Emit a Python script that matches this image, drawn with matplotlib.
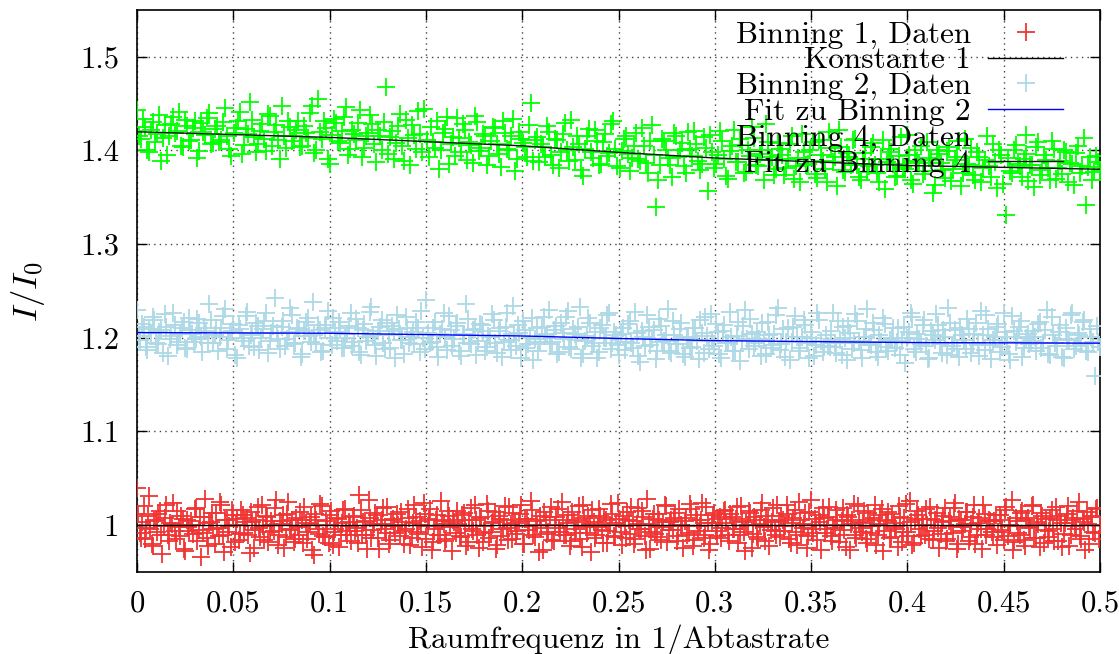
import numpy as np
import matplotlib
matplotlib.use("Agg")
import matplotlib.pyplot as plt

plt.rcParams['font.family'] = ['cmr10', 'DejaVu Serif']
plt.rcParams['mathtext.fontset'] = 'cm'
plt.rcParams['axes.formatter.use_mathtext'] = True

# ---------------- data (units of 1e-3) ----------------
# each series is stored as two interleaved halves (even and odd frequency bins)
binning1_even = [
    1040, 992, 1003, 985, 1010, 996, 978, 1005, 1012, 990, 999, 1021, 983, 1001, 994, 1015, 988, 1007, 972, 998,
    1004, 991, 1018, 995, 966, 1009, 986, 1002, 1013, 980, 997, 1025, 989, 1006, 993, 977, 1011, 1000, 984, 1016,
    992, 1008, 970, 1003, 995, 1019, 987, 999, 1010, 982, 1004, 994, 1027, 990, 1001, 976, 1012, 996, 1006, 985,
    998, 1014, 981, 1002, 993, 1009, 968, 1005, 991, 1020, 987, 1000, 1011, 979, 996, 1007, 989, 1016, 994, 1003,
    983, 1010, 997, 1032, 990, 1004, 975, 1008, 995, 1013, 986, 1001, 1018, 992, 980, 1006, 999, 1012, 988, 1003,
    994, 1017, 979, 1002, 1009, 991, 1000, 1024, 985, 1007, 973, 996, 1011, 989, 1004, 983, 1015, 998, 1006, 992,
    1001, 987, 1013, 978, 1005, 996, 1022, 990, 1008, 982, 999, 1015, 993, 1003, 975, 1010, 988, 1006, 997, 1019,
    985, 1002, 994, 1012, 980, 1007, 999, 1026, 989, 1004, 971, 997, 1014, 991, 1009, 984, 1000, 1017, 993, 1005,
    990, 1011, 983, 1003, 996, 1020, 977, 1008, 992, 1001, 1016, 986, 998, 1010, 981, 1005, 994, 1023, 988, 1002,
    1007, 979, 999, 1014, 991, 1004, 985, 1018, 996, 1009, 974, 1001, 993, 1012, 987, 1006, 998, 1021, 982, 1003,
    995, 1013, 988, 1000, 976, 1008, 992, 1017, 984, 1005, 999, 1024, 990, 1002, 980, 1011, 994, 1007, 986, 1015,
    1002, 983, 1009, 996, 1019, 989, 1004, 972, 1000, 1013, 991, 1006, 985, 1016, 998, 1010, 978, 1003, 994, 1021,
    987, 1005, 999, 1012, 981, 1008, 993, 1025, 990, 1001, 976, 1014, 996, 1007, 984, 1003, 1018, 992, 1009, 988,
    1000, 1016, 982, 1004, 995, 1011, 974, 1006, 989, 1020, 997, 1002, 985, 1013, 992, 1008, 979, 1001, 1017, 994,
    1006, 986, 1012, 998, 977, 1009, 993, 1023, 988, 1003, 981, 1015, 996, 1007, 990, 1000, 1019, 984, 1005, 997,
    991, 1010, 983, 1004, 999, 1018, 975, 1007, 994, 1001, 1014, 987, 1009, 980, 1002, 996, 1022, 989, 1006, 993,
    1004, 979, 1011, 995, 1016, 988, 1000, 973, 1008, 992, 1013, 984, 1005, 998, 1020, 986, 1003, 977, 1010, 995,
    987, 1008, 996, 1019, 983, 1002, 991, 1012, 978, 1005, 999, 1015, 988, 1007, 974, 1001, 1010, 993, 1017, 985,
]
binning1_odd = [
    1012, 986, 1020, 997, 1031, 980, 1004, 993, 1015, 969, 1008, 990, 1002, 1024, 985, 998, 1010, 975, 1006, 994,
    1000, 1017, 983, 1009, 992, 1028, 978, 1003, 996, 1013, 988, 1021, 971, 1005, 999, 1016, 982, 1007, 991, 1011,
    1003, 989, 1014, 976, 1006, 997, 1022, 984, 1009, 993, 1000, 1018, 979, 1004, 1011, 987, 1025, 995, 982, 1008,
    990, 1006, 1019, 985, 1001, 973, 1012, 996, 1023, 988, 1004, 981, 1015, 993, 1008, 977, 1002, 1017, 990, 999,
    1009, 994, 981, 1016, 1003, 990, 1027, 986, 1001, 1011, 975, 1005, 996, 1019, 984, 1007, 992, 1000, 1014, 980,
    996, 1008, 986, 1021, 993, 1004, 977, 1012, 999, 1017, 982, 1006, 990, 1026, 1001, 985, 1010, 972, 1003, 1015,
    988, 1011, 999, 982, 1018, 994, 1005, 976, 1009, 992, 1023, 986, 1002, 1014, 979, 1007, 996, 1020, 984, 1001,
    1013, 991, 1004, 1022, 980, 1007, 995, 1016, 987, 1000, 1010, 974, 1005, 993, 1019, 983, 1009, 997, 1025, 989,
    1002, 978, 1014, 992, 1006, 985, 1021, 998, 1010, 971, 1003, 989, 1017, 995, 1008, 981, 1000, 1012, 987, 1024,
    993, 1010, 986, 1005, 1019, 980, 1001, 996, 1015, 988, 1028, 975, 1007, 991, 1012, 984, 1003, 1020, 995, 1006,
    1008, 983, 1017, 999, 1004, 990, 1023, 978, 1011, 994, 1006, 986, 1019, 973, 1002, 1013, 988, 1009, 997, 1016,
    990, 1012, 996, 1007, 981, 1020, 993, 1003, 1015, 976, 1009, 987, 1001, 1024, 983, 1005, 995, 1018, 989, 1004,
    1010, 994, 1022, 985, 1002, 1016, 979, 1006, 997, 1013, 988, 1027, 992, 1000, 1011, 974, 1008, 996, 1019, 983,
    997, 1005, 989, 1018, 977, 1009, 1001, 1023, 986, 1003, 993, 1015, 981, 1006, 999, 1021, 990, 1011, 972, 1004,
    1014, 987, 1002, 996, 1020, 982, 1008, 993, 1026, 979, 1005, 1011, 988, 1000, 1017, 985, 1007, 994, 1013, 976,
    1003, 1018, 985, 1009, 992, 1024, 980, 1006, 998, 1014, 983, 1001, 1021, 990, 1008, 975, 1012, 996, 1004, 987,
    1011, 993, 1006, 984, 1019, 999, 1027, 982, 1004, 990, 1015, 978, 1008, 997, 1022, 986, 1001, 1013, 981, 1007,
    994, 1016, 983, 1005, 1010, 977, 1002, 1020, 989, 1008, 996, 1025, 985, 1003, 1014, 980, 1009, 992, 1018, 1000,
]

binning2_even = [
    1230, 1198, 1212, 1187, 1205, 1219, 1193, 1208, 1225, 1181, 1202, 1214, 1196, 1210, 1189, 1221, 1204, 1199, 1216, 1185,
    1207, 1236, 1194, 1211, 1201, 1223, 1188, 1206, 1215, 1179, 1209, 1197, 1228, 1203, 1190, 1213, 1200, 1218, 1184, 1205,
    1243, 1199, 1212, 1191, 1206, 1224, 1195, 1209, 1183, 1217, 1202, 1238, 1193, 1208, 1186, 1214, 1200, 1221, 1197, 1211,
    1189, 1204, 1226, 1196, 1210, 1182, 1215, 1201, 1233, 1192, 1207, 1219, 1188, 1203, 1213, 1178, 1209, 1198, 1222, 1194,
    1206, 1217, 1185, 1200, 1240, 1195, 1211, 1190, 1204, 1227, 1187, 1208, 1199, 1216, 1181, 1203, 1220, 1193, 1209, 1197,
    1214, 1186, 1202, 1225, 1195, 1207, 1180, 1212, 1198, 1234, 1191, 1205, 1218, 1189, 1201, 1176, 1210, 1196, 1222, 1204,
    1193, 1208, 1183, 1216, 1199, 1229, 1188, 1204, 1212, 1178, 1197, 1221, 1191, 1206, 1185, 1214, 1200, 1226, 1194, 1203,
    1182, 1210, 1196, 1218, 1189, 1205, 1174, 1201, 1224, 1192, 1208, 1186, 1213, 1197, 1231, 1184, 1203, 1193, 1216, 1180,
    1200, 1190, 1211, 1177, 1205, 1222, 1188, 1197, 1215, 1183, 1207, 1194, 1228, 1186, 1202, 1175, 1213, 1199, 1220, 1191,
    1206, 1181, 1198, 1217, 1189, 1204, 1232, 1193, 1180, 1210, 1196, 1223, 1186, 1201, 1214, 1178, 1200, 1192, 1219, 1185,
    1203, 1190, 1227, 1184, 1198, 1212, 1176, 1205, 1194, 1218, 1187, 1201, 1231, 1192, 1208, 1180, 1196, 1215, 1186, 1200,
    1189, 1210, 1197, 1173, 1206, 1222, 1185, 1199, 1214, 1191, 1179, 1203, 1225, 1193, 1208, 1182, 1216, 1195, 1188, 1211,
    1198, 1220, 1184, 1204, 1192, 1229, 1187, 1209, 1177, 1201, 1215, 1190, 1206, 1183, 1223, 1196, 1212, 1180, 1200, 1193,
    1207, 1186, 1217, 1195, 1230, 1182, 1203, 1191, 1214, 1178, 1199, 1224, 1188, 1205, 1193, 1219, 1185, 1201, 1159, 1196,
]
binning2_odd = [
    1202, 1215, 1190, 1209, 1222, 1195, 1206, 1184, 1212, 1199, 1227, 1192, 1204, 1217, 1188, 1208, 1196, 1220, 1201, 1211,
    1194, 1219, 1203, 1186, 1210, 1231, 1198, 1207, 1182, 1214, 1200, 1223, 1191, 1205, 1216, 1187, 1209, 1226, 1197, 1213,
    1205, 1188, 1218, 1199, 1232, 1193, 1210, 1180, 1207, 1221, 1196, 1203, 1214, 1185, 1211, 1229, 1192, 1206, 1217, 1189,
    1200, 1213, 1191, 1220, 1185, 1208, 1197, 1228, 1203, 1181, 1212, 1194, 1216, 1189, 1207, 1224, 1198, 1183, 1210, 1201,
    1193, 1211, 1229, 1188, 1205, 1196, 1217, 1180, 1209, 1201, 1223, 1191, 1213, 1186, 1204, 1236, 1195, 1208, 1182, 1215,
    1207, 1190, 1201, 1219, 1184, 1211, 1196, 1226, 1187, 1204, 1214, 1179, 1208, 1193, 1221, 1199, 1186, 1212, 1202, 1230,
    1196, 1213, 1185, 1205, 1222, 1190, 1209, 1198, 1233, 1183, 1202, 1216, 1194, 1178, 1210, 1200, 1224, 1188, 1206, 1192,
    1204, 1187, 1215, 1195, 1228, 1181, 1207, 1191, 1212, 1199, 1177, 1220, 1196, 1203, 1186, 1218, 1193, 1209, 1183, 1201,
    1189, 1210, 1197, 1219, 1184, 1202, 1225, 1191, 1206, 1179, 1214, 1195, 1201, 1186, 1217, 1198, 1230, 1188, 1204, 1194,
    1199, 1216, 1183, 1203, 1192, 1224, 1187, 1209, 1196, 1176, 1212, 1201, 1189, 1219, 1194, 1206, 1181, 1227, 1197, 1190,
    1191, 1207, 1195, 1218, 1182, 1200, 1213, 1188, 1225, 1197, 1179, 1209, 1193, 1216, 1185, 1203, 1221, 1190, 1198, 1211,
    1196, 1182, 1212, 1200, 1227, 1188, 1204, 1193, 1219, 1177, 1207, 1198, 1214, 1184, 1201, 1232, 1191, 1208, 1180, 1203,
    1188, 1209, 1195, 1216, 1181, 1203, 1224, 1192, 1198, 1212, 1185, 1227, 1196, 1176, 1207, 1201, 1218, 1189, 1204, 1197,
    1201, 1215, 1189, 1208, 1183, 1222, 1195, 1206, 1180, 1211, 1198, 1227, 1191, 1203, 1217, 1186, 1209, 1196, 1213, 1190,
]

binning4_even = [
    1443, 1412, 1425, 1398, 1430, 1418, 1389, 1427, 1415, 1436, 1421, 1405, 1433, 1410, 1424, 1392, 1429, 1417, 1440, 1408,
    1426, 1411, 1445, 1402, 1419, 1432, 1396, 1423, 1452, 1414, 1407, 1428, 1399, 1437, 1420, 1411, 1448, 1403, 1425, 1416,
    1431, 1405, 1419, 1440, 1397, 1455, 1412, 1424, 1386, 1434, 1410, 1421, 1446, 1402, 1418, 1429, 1393, 1415, 1438, 1407,
    1422, 1400, 1468, 1414, 1391, 1426, 1405, 1433, 1384, 1417, 1442, 1398, 1411, 1425, 1403, 1380, 1419, 1436, 1407, 1394,
    1413, 1428, 1390, 1406, 1437, 1399, 1418, 1385, 1410, 1424, 1396, 1431, 1402, 1415, 1378, 1420, 1408, 1393, 1451, 1411,
    1388, 1404, 1426, 1395, 1412, 1381, 1418, 1400, 1433, 1390, 1407, 1373, 1415, 1398, 1422, 1385, 1409, 1394, 1428, 1402,
    1381, 1412, 1396, 1392, 1419, 1389, 1405, 1376, 1427, 1340, 1385, 1410, 1392, 1372, 1415, 1401, 1383, 1420, 1394, 1407,
    1379, 1414, 1357, 1398, 1386, 1421, 1391, 1370, 1405, 1388, 1412, 1376, 1400, 1425, 1384, 1396, 1368, 1409, 1393, 1380,
    1402, 1374, 1391, 1415, 1383, 1366, 1398, 1386, 1409, 1371, 1395, 1380, 1420, 1388, 1362, 1404, 1377, 1393, 1411, 1384,
    1369, 1397, 1383, 1408, 1376, 1391, 1359, 1402, 1386, 1373, 1414, 1380, 1395, 1364, 1389, 1405, 1378, 1392, 1355, 1400,
    1387, 1371, 1404, 1380, 1393, 1362, 1412, 1385, 1374, 1398, 1366, 1390, 1383, 1407, 1360, 1395, 1331, 1378, 1401, 1386,
    1372, 1396, 1384, 1361, 1409, 1379, 1390, 1368, 1402, 1381, 1375, 1398, 1387, 1363, 1405, 1383, 1342, 1393, 1377, 1388,
]
binning4_odd = [
    1416, 1434, 1401, 1422, 1409, 1438, 1413, 1395, 1428, 1419, 1441, 1404, 1426, 1411, 1432, 1399, 1420, 1435, 1407, 1423,
    1409, 1430, 1415, 1394, 1424, 1441, 1406, 1418, 1433, 1398, 1421, 1412, 1439, 1405, 1427, 1391, 1416, 1431, 1410, 1422,
    1404, 1426, 1413, 1447, 1400, 1420, 1432, 1391, 1417, 1429, 1408, 1436, 1395, 1422, 1411, 1443, 1403, 1419, 1428, 1388,
    1416, 1430, 1396, 1421, 1408, 1439, 1389, 1413, 1427, 1402, 1418, 1444, 1393, 1409, 1431, 1400, 1423, 1386, 1414, 1435,
    1398, 1422, 1409, 1387, 1430, 1403, 1416, 1394, 1425, 1407, 1382, 1419, 1400, 1434, 1391, 1412, 1404, 1427, 1389, 1414,
    1407, 1393, 1420, 1384, 1411, 1398, 1429, 1389, 1404, 1416, 1379, 1402, 1423, 1392, 1410, 1386, 1418, 1397, 1431, 1383,
    1399, 1416, 1378, 1405, 1391, 1424, 1387, 1410, 1395, 1369, 1412, 1400, 1384, 1419, 1393, 1408, 1376, 1402, 1421, 1389,
    1386, 1403, 1417, 1381, 1395, 1410, 1373, 1399, 1422, 1388, 1406, 1377, 1394, 1413, 1383, 1401, 1428, 1390, 1374, 1408,
    1395, 1381, 1407, 1370, 1392, 1418, 1385, 1400, 1375, 1411, 1389, 1366, 1403, 1393, 1422, 1379, 1397, 1384, 1412, 1372,
    1391, 1377, 1404, 1384, 1366, 1411, 1388, 1398, 1372, 1394, 1382, 1417, 1369, 1401, 1387, 1375, 1409, 1390, 1363, 1396,
    1379, 1399, 1367, 1390, 1410, 1376, 1386, 1403, 1369, 1393, 1381, 1415, 1372, 1388, 1400, 1364, 1392, 1376, 1406, 1383,
    1391, 1367, 1385, 1404, 1374, 1395, 1381, 1410, 1370, 1389, 1400, 1366, 1386, 1397, 1376, 1413, 1382, 1369, 1394, 1379,
]

const1_x = [0.0, 0.5]
const1_y = [1.0, 1.0]
fit2_x = [0.0, 0.1, 0.2, 0.25, 0.3, 0.4, 0.5]
fit2_y = [1.2056, 1.2049, 1.2020, 1.1993, 1.1970, 1.1950, 1.1943]
fit4_x = [0.0, 0.1, 0.2, 0.25, 0.3, 0.4, 0.5]
fit4_y = [1.420, 1.414, 1.405, 1.398, 1.392, 1.384, 1.380]

x_ticks = [0, 0.05, 0.1, 0.15, 0.2, 0.25, 0.3, 0.35, 0.4, 0.45, 0.5]
x_ticklabels = ['0', '0.05', '0.1', '0.15', '0.2', '0.25', '0.3', '0.35', '0.4', '0.45', '0.5']
y_ticks = [1.0, 1.1, 1.2, 1.3, 1.4, 1.5]
y_ticklabels = ['1', '1.1', '1.2', '1.3', '1.4', '1.5']


def interleave(even, odd):
    vals = np.empty(len(even) + len(odd))
    vals[0::2] = even
    vals[1::2] = odd
    return vals / 1000.0


# ---------------- figure ----------------
W, H = 1119, 654
fig = plt.figure(figsize=(W / 100, H / 100), dpi=100)
ax = fig.add_axes([137 / W, (H - 572) / H, (1100 - 137) / W, (572 - 10) / H])

y1 = interleave(binning1_even, binning1_odd)
y2 = interleave(binning2_even, binning2_odd)
y4 = interleave(binning4_even, binning4_odd)
x1 = np.linspace(0, 0.5, len(y1))
x2 = np.linspace(0, 0.5, len(y2))
x4 = np.linspace(0, 0.5, len(y4))

ms = 13
mew = 1.3
ax.plot(x1, y1, ls='none', marker='+', ms=ms, mew=mew, color='#f03434', label='Binning 1, Daten', zorder=3)
ax.plot(const1_x, const1_y, color='black', lw=1.0, label='Konstante 1', zorder=4)
ax.plot(x2, y2, ls='none', marker='+', ms=ms, mew=mew, color='#add8e6', label='Binning 2, Daten', zorder=3)
ax.plot(fit2_x, fit2_y, color='#0000ff', lw=1.0, label='Fit zu Binning 2', zorder=4)
ax.plot(x4, y4, ls='none', marker='+', ms=ms, mew=mew, color='#00ff00', label='Binning 4, Daten', zorder=3)
ax.plot(fit4_x, fit4_y, color='#111111', lw=1.0, label='Fit zu Binning 4', zorder=4)

ax.set_xlim(0, 0.5)
ax.set_ylim(0.95, 1.55)
ax.set_xticks(x_ticks)
ax.set_xticklabels(x_ticklabels)
ax.set_yticks(y_ticks)
ax.set_yticklabels(y_ticklabels)
ax.tick_params(direction='in', length=7, width=1, labelsize=22, top=True, right=True)
ax.tick_params(axis='y', pad=13)
ax.tick_params(axis='x', pad=13)
for s in ax.spines.values():
    s.set_linewidth(1.2)
ax.grid(True, color='#444444', ls=(0, (1, 3)), lw=1.0, zorder=0)
ax.set_axisbelow(True)

ax.set_xlabel('Raumfrequenz in 1/Abtastrate', fontsize=22.5, labelpad=5)
ax.set_ylabel(r'$I/I_0$', fontsize=25, labelpad=24)

leg = ax.legend(loc='upper right', bbox_to_anchor=(0.9616, 0.981), frameon=False,
                markerfirst=False, fontsize=22.5, handlelength=2.4, handletextpad=0.55,
                labelspacing=-0.07, borderaxespad=0.0, borderpad=0.0, numpoints=1)

fig.savefig('out.png', dpi=100)
